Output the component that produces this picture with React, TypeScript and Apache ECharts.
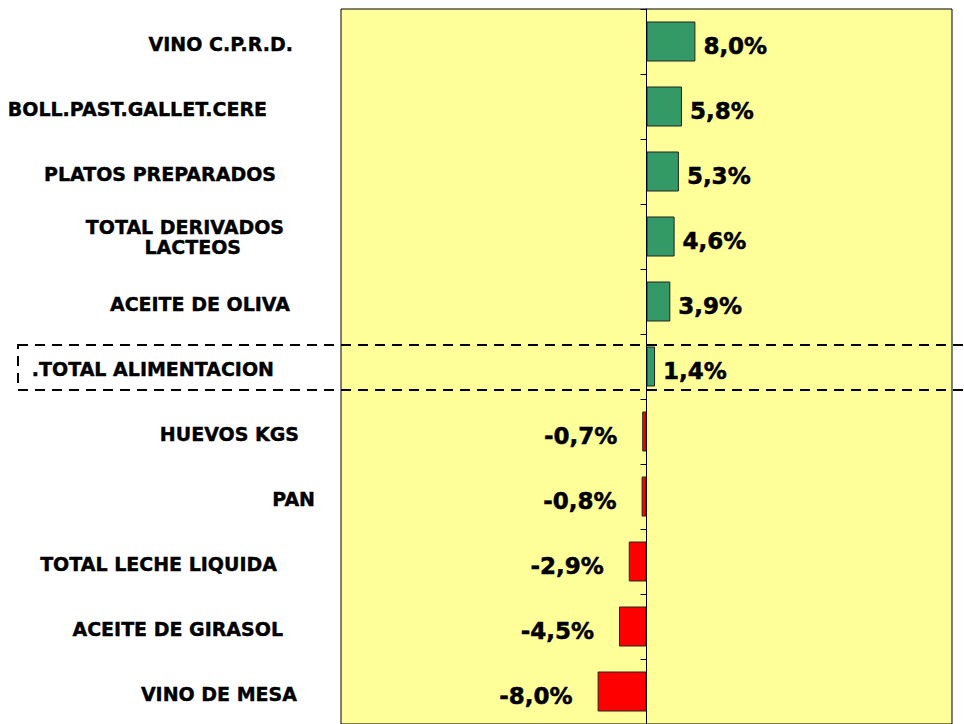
import React, { useEffect, useRef } from "react";
import * as echarts from "echarts";

// ---- data ----
const categories: string[] = [
  "VINO C.P.R.D.",
  "BOLL.PAST.GALLET.CERE",
  "PLATOS PREPARADOS",
  "TOTAL DERIVADOS\nLACTEOS",
  "ACEITE DE OLIVA",
  ".TOTAL ALIMENTACION",
  "HUEVOS KGS",
  "PAN",
  "TOTAL LECHE LIQUIDA",
  "ACEITE DE GIRASOL",
  "VINO DE MESA",
];
const values: number[] = [8.0, 5.8, 5.3, 4.6, 3.9, 1.4, -0.7, -0.8, -2.9, -4.5, -8.0];
const axisMin = -50;
const axisMax = 50;

// ---- layout (right padding of each category label line, px) ----
const labelPad: number[][] = [
  [22],
  [48],
  [39],
  [31, 74],
  [25],
  [41],
  [16],
  [0],
  [38],
  [32],
  [18],
];

const FONT = "DejaVu Sans";

export default function App() {
  const ref = useRef<HTMLDivElement>(null);

  useEffect(() => {
    if (!ref.current) return;
    const chart = echarts.init(ref.current, undefined, { renderer: "svg" });

    const rich: Record<string, any> = {};
    labelPad.forEach((pads, i) => {
      pads.forEach((p, j) => {
        rich[`r${i}_${j}`] = {
          fontFamily: FONT,
          fontWeight: "bold",
          fontSize: 19,
          color: "#000",
          textBorderColor: "#000",
          textBorderWidth: 0.4,
          lineHeight: 20,
          padding: [pads.length === 1 ? 4 : 0, p, 0, 0],
          align: "right",
        };
      });
    });

    const barData = values.map((v) => ({
      value: v,
      itemStyle: {
        color: v >= 0 ? "#339966" : "#FF0000",
        borderColor: "#222",
        borderWidth: 1,
      },
      label: {
        position: v >= 0 ? "right" : "left",
        distance: v >= 0 ? 8 : 25,
      },
    }));

    chart.setOption({
      animation: false,
      backgroundColor: "#ffffff",
      grid: {
        left: 341,
        right: 12,
        top: 9,
        bottom: 0,
        containLabel: false,
        outerBoundsMode: "none",
        show: true,
        backgroundColor: "#FFFF99",
        borderColor: "#000",
        borderWidth: 1,
      },
      xAxis: {
        type: "value",
        min: axisMin,
        max: axisMax,
        axisLine: { show: false },
        axisTick: { show: false },
        axisLabel: { show: false },
        splitLine: { show: false },
      },
      yAxis: {
        type: "category",
        data: categories,
        inverse: true,
        z: 10,
        axisLine: { show: true, onZero: true, lineStyle: { color: "#000", width: 1 } },
        axisTick: { show: true, length: 6, lineStyle: { color: "#000", width: 1 } },
        splitLine: { show: false },
        axisLabel: {
          margin: 26,
          align: "right",
          formatter: (val: string, idx: number) =>
            val
              .split("\n")
              .map((ln, j) => `{r${idx}_${j}|${ln}}`)
              .join("\n"),
          rich,
        },
      },
      series: [
        {
          type: "bar",
          data: barData,
          barWidth: 40,
          label: {
            show: true,
            fontFamily: FONT,
            fontWeight: "bold",
            fontSize: 23,
            color: "#000",
            textBorderColor: "#000",
            textBorderWidth: 0.5,
            offset: [0, 4],
            formatter: (p: any) => p.value.toFixed(1).replace(".", ",") + "%",
          },
        },
      ],
      graphic: [
        {
          type: "rect",
          z: 100,
          shape: { x: 18, y: 345, width: 960, height: 45 },
          style: {
            fill: "transparent",
            stroke: "#000",
            lineWidth: 2,
            lineDash: [10, 7],
          },
        },
      ],
    });

    return () => chart.dispose();
  }, []);

  return (
    <div
      ref={ref}
      style={{ position: "fixed", left: 0, top: 0, width: 964, height: 724 }}
    />
  );
}
